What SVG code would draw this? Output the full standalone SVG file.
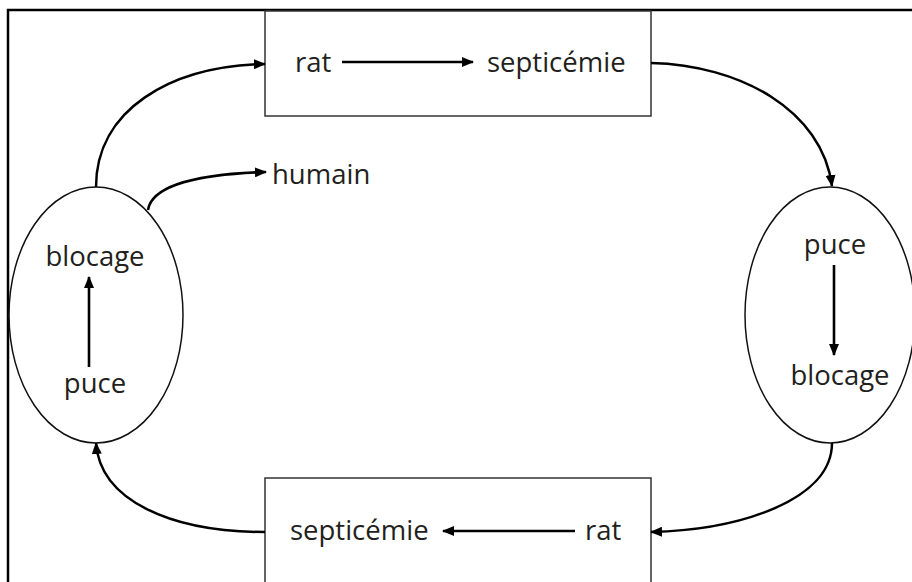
<svg xmlns="http://www.w3.org/2000/svg" width="912" height="582" viewBox="0 0 912 582">
<style>
.t{font-family:"Open Sans","Liberation Sans",sans-serif;font-size:27.5px;fill:#231f20}
.box{fill:#fff;stroke:#333;stroke-width:1.5}
.ell{fill:#fff;stroke:#111;stroke-width:1.5}
.c{fill:none;stroke:#000;stroke-width:2.5;marker-end:url(#ah)}
.s{fill:none;stroke:#000;stroke-width:2.6;marker-end:url(#ah)}
</style>
<defs>
<marker id="ah" viewBox="0 0 12 10" refX="11" refY="5" markerWidth="12" markerHeight="10" markerUnits="userSpaceOnUse" orient="auto">
<path d="M0,0 L12,5 L0,10 Z" fill="#000"/>
</marker>
</defs>
<rect width="912" height="582" fill="#fff"/>
<g id="frame">
<path d="M8,582 V10 H912" fill="none" stroke="#000" stroke-width="2.5"/>
</g>
<g id="node-top">
<rect class="box" x="265" y="11" width="386" height="105"/>
<text class="t" x="295" y="72">rat</text>
<path class="s" d="M342,62 H473"/>
<text class="t" x="487" y="72">septicémie</text>
</g>
<g id="node-bottom">
<rect class="box" x="265" y="478" width="386" height="120"/>
<text class="t" x="290" y="540">septicémie</text>
<path class="s" d="M575,531 H443"/>
<text class="t" x="585" y="540">rat</text>
</g>
<g id="node-left">
<ellipse class="ell" cx="96" cy="315" rx="87" ry="128"/>
<text class="t" x="95" y="266" text-anchor="middle">blocage</text>
<path class="s" d="M89,367 V277"/>
<text class="t" x="95" y="393" text-anchor="middle">puce</text>
</g>
<g id="node-right">
<ellipse class="ell" cx="830" cy="315" rx="85" ry="128"/>
<text class="t" x="835" y="254" text-anchor="middle">puce</text>
<path class="s" d="M834,265 V355"/>
<text class="t" x="840" y="385" text-anchor="middle">blocage</text>
</g>
<g id="node-humain">
<text class="t" x="272" y="184">humain</text>
</g>
<g id="connectors">
<path class="c" d="M96,187 C96,110 170,66 265,64"/>
<path class="c" d="M148,210 C152,185 200,174 266,172"/>
<path class="c" d="M651,63 C740,65 822,110 832,186"/>
<path class="c" d="M832,443 C832,500 740,530 651,532"/>
<path class="c" d="M265,532 C170,532 100,500 96,443"/>
</g>
</svg>
